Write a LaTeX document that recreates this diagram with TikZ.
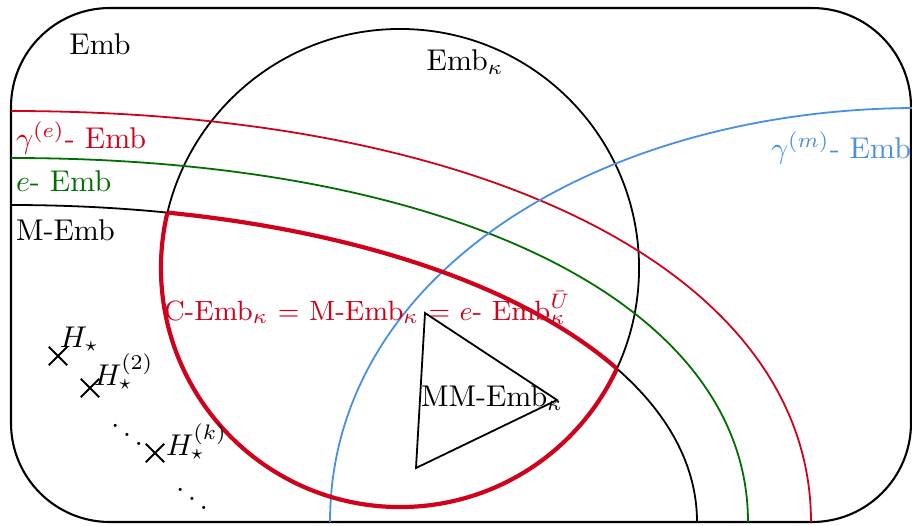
\documentclass[tikz,border=0pt]{standalone}
\usetikzlibrary{shapes.misc}
\definecolor{embred}{RGB}{208,2,27}
\definecolor{embgreen}{RGB}{0,110,0}
\definecolor{embblue}{RGB}{74,144,226}
\begin{document}
\begin{tikzpicture}[x=0.3333pt,y=-0.3333pt,
  thinline/.style={line width=0.6pt},
  thickred/.style={line width=1.4pt, draw=embred},
  lbl/.style={inner sep=0pt, outer sep=0pt},
  crossmark/.style={draw, cross out, minimum size=5.5pt, inner sep=0pt, line width=0.6pt}]
\useasboundingbox (0,0) rectangle (912,525);
% outer set
\draw[line width=0.7pt, rounded corners=33pt] (11,8) rectangle (911,522);
% circle Emb_kappa
\coordinate (cc) at (400,268);
\draw[thinline] (cc) circle[radius=79.67pt];
% curve endpoints
\coordinate (rS) at (11,111); \coordinate (rE) at (811,522);
\coordinate (gS) at (11,158); \coordinate (gE) at (748,522);
\coordinate (kS) at (11,205); \coordinate (kE) at (697,522);
\coordinate (bS) at (330,522); \coordinate (bE) at (912,108);
\draw[thinline, embred] (rS) .. controls (491,111) and (811,275.4) .. (rE);
\draw[thinline, embgreen] (gS) .. controls (453,158) and (748,303.6) .. (gE);
\draw[thinline, black] (kS) .. controls (402,205) and (697,341.3) .. (kE);
\draw[thinline, embblue] (bS) .. controls (330,273) and (600,110) .. (bE);
% thick red region: circle intersect M-Emb
\begin{scope}
  \clip (kS) .. controls (402,205) and (697,341.3) .. (kE) -- (11,522) -- cycle;
  \draw[thickred] (cc) circle[radius=79.67pt];
\end{scope}
\begin{scope}
  \clip (cc) circle[radius=79.67pt];
  \draw[thickred] (kS) .. controls (402,205) and (697,341.3) .. (kE);
\end{scope}
% triangle MM-Emb
\coordinate (t1) at (425,313);
\coordinate (t2) at (557,400);
\coordinate (t3) at (416,468);
\draw[thinline] (t1) -- (t2) -- (t3) -- cycle;
% labels
\node[lbl] (lEmb) at (100,44) {Emb};
\node[lbl] (lEmbk) at (465,62) {Emb$_\kappa$};
\node[lbl, anchor=base west, text=embred] (lge) at (16,148) {$\gamma^{(e)}$- Emb};
\node[lbl, anchor=base west, text=embgreen] (le) at (16,191) {$e$- Emb};
\node[lbl, anchor=base west] (lM) at (16,240) {M-Emb};
\node[lbl, anchor=base east, text=embblue] (lgm) at (911,158) {$\gamma^{(m)}$- Emb};
\node[lbl, anchor=base west, text=embred, font=\fontsize{9.3}{11}\selectfont] (lC) at (164,320) {C-Emb$_\kappa$ $=$ M-Emb$_\kappa$ $=$ $e$- Emb$_\kappa^{\bar U}$};
\node[lbl, anchor=base west] (lMM) at (421,406) {MM-Emb$_\kappa$};
% stars
\node[crossmark] (x1) at (58,356) {};
\node[crossmark] (x2) at (90,388) {};
\node[crossmark] (x3) at (155,453) {};
\node[lbl, anchor=base west] (h1) at (60,347) {$H_\star$};
\node[lbl, anchor=base west] (h2) at (94,385) {$H_\star^{(2)}$};
\node[lbl, anchor=base west] (h3) at (166,455) {$H_\star^{(k)}$};
\node[lbl] (d1) at (127,426) {$\ddots$};
\node[lbl] (d2) at (192,490) {$\ddots$};
\end{tikzpicture}
\end{document}
